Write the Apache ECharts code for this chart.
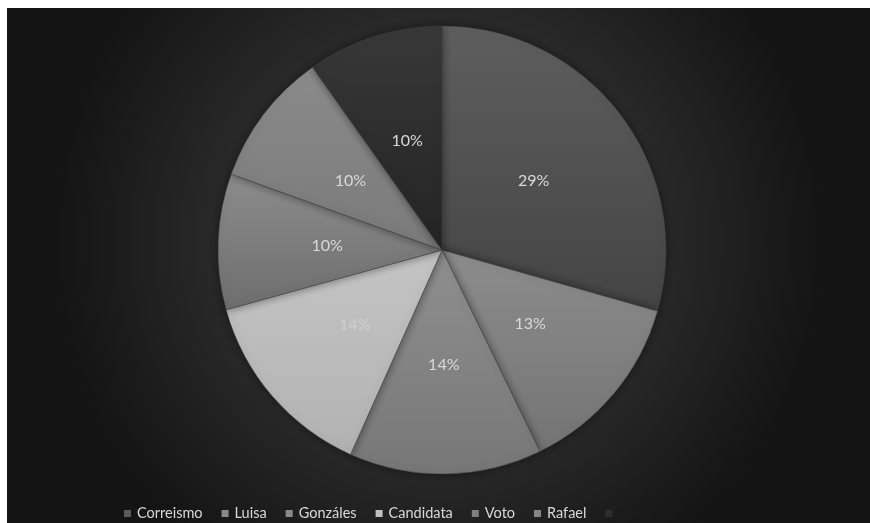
<!DOCTYPE html>
<html>
<head>
<meta charset="utf-8">
<script src="https://cdn.jsdelivr.net/npm/echarts@6/dist/echarts.min.js"></script>
<style>
html,body{margin:0;padding:0;background:#fff;}
#c{position:absolute;left:7px;top:8px;width:863px;height:515px;}
</style>
</head>
<body>
<div id="c"></div>
<script>
const categories = ['Correismo', 'Luisa', 'Gonzáles', 'Candidata', 'Voto', 'Rafael', '—'];
const values = [29.4, 13.4, 13.9, 14.0, 9.8, 9.7, 9.8];
const labelsShown = ['29%', '13%', '14%', '14%', '10%', '10%', '10%'];
const topColors = ['#5e5e5e', '#8c8c8c', '#8f8f8f', '#c4c4c4', '#8c8c8c', '#8a8a8a', '#383838'];
const bottomColors = ['#444444', '#747474', '#777777', '#b2b2b2', '#6e6e6e', '#7a7a7a', '#242424'];
const legendColors = ['#5a5a5a', '#8a8a8a', '#8a8a8a', '#c0c0c0', '#808080', '#858585', '#2e2e2e'];

const chart = echarts.init(document.getElementById('c'));
const data = categories.map((n, i) => ({
  name: n,
  value: values[i],
  itemStyle: {
    color: new echarts.graphic.LinearGradient(0, 0, 0, 1, [
      {offset: 0, color: topColors[i]},
      {offset: 1, color: bottomColors[i]}
    ])
  },
  label: {color: i === 3 ? '#cfcfcf' : '#d9d9d9'}
}));

chart.setOption({
  backgroundColor: new echarts.graphic.RadialGradient(0.5, 0.45, 0.75, [
    {offset: 0, color: '#303030'},
    {offset: 0.55, color: '#2a2a2a'},
    {offset: 1, color: '#141414'}
  ]),
  animation: false,
  legend: {
    top: 493,
    left: 112,
    itemWidth: 7,
    itemHeight: 7,
    itemGap: 19,
    icon: 'rect',
    data: categories.map((n, i) => ({
      name: n,
      itemStyle: {color: legendColors[i], borderWidth: 0, shadowBlur: 0}
    })),
    formatter: function (name) { return name === '—' ? '' : name; },
    textStyle: {color: '#d9d9d9', fontSize: 14.5, fontFamily: 'Lato', padding: [0, 0, 0, 1]}
  },
  series: [{
    type: 'pie',
    center: [435, 242],
    radius: [0, 224],
    startAngle: 90,
    clockwise: true,
    data: data,
    itemStyle: {
      borderColor: 'rgba(70,70,70,0.8)',
      borderWidth: 0.6,
      shadowBlur: 8,
      shadowColor: 'rgba(0,0,0,0.45)'
    },
    label: {
      show: true,
      position: 'inside',
      fontFamily: 'Lato',
      fontSize: 16,
      formatter: function (p) { return labelsShown[p.dataIndex]; }
    },
    labelLine: {show: false},
    emphasis: {disabled: true}
  }]
});
</script>
</body>
</html>
